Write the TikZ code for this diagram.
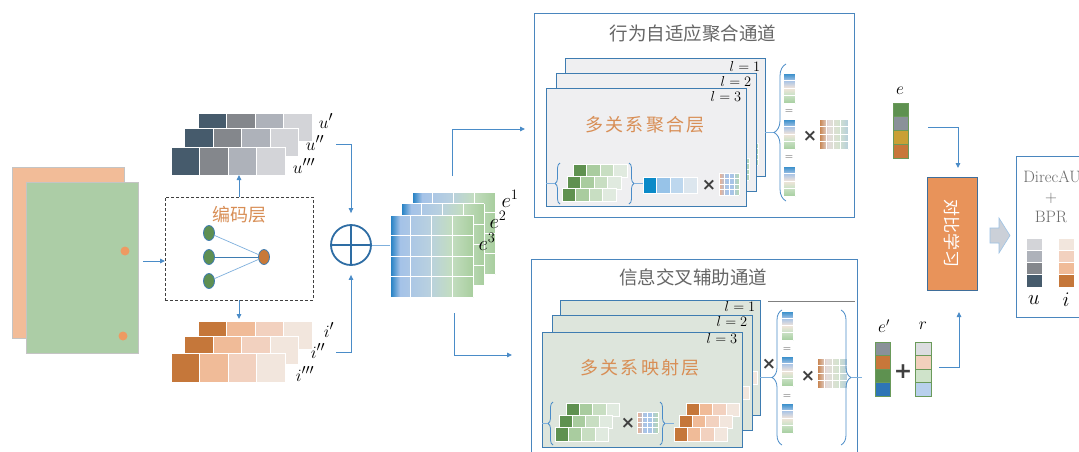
\documentclass[tikz,border=0pt]{standalone}
\usepackage{fontspec}
\newfontfamily\cjk{Noto Sans CJK SC}
\newfontfamily\cjksp[LetterSpace=12]{Noto Sans CJK SC}
\newfontfamily\dejavu{DejaVu Sans}
\usetikzlibrary{arrows.meta,decorations.pathreplacing,shapes.geometric}
\newcommand\setfs[1]{\fontsize{#1}{#1}\selectfont}
\definecolor{salmon}{HTML}{F2BC98}
\definecolor{sage}{HTML}{ACCDA6}
\definecolor{dotc}{HTML}{EE9A62}
\definecolor{rectgray}{HTML}{C4C4C4}
\definecolor{ablue}{HTML}{4A8CC8}
\definecolor{lblue}{HTML}{7FB0DD}
\definecolor{opblue}{HTML}{2E6DA4}
\definecolor{u1}{HTML}{465B6C}
\definecolor{u2}{HTML}{84878C}
\definecolor{u3}{HTML}{AEB2BA}
\definecolor{u4}{HTML}{D3D4D8}
\definecolor{i1}{HTML}{C5773A}
\definecolor{i2}{HTML}{F0BB98}
\definecolor{i3}{HTML}{F2D1BF}
\definecolor{i4}{HTML}{F2E6DD}
\definecolor{g1}{HTML}{5F9150}
\definecolor{g2}{HTML}{A9CC9F}
\definecolor{g3}{HTML}{C8DEC2}
\definecolor{g4}{HTML}{E0EADF}
\definecolor{b1}{HTML}{0A8AC8}
\definecolor{b2}{HTML}{97C3E8}
\definecolor{b3}{HTML}{BDD7EE}
\definecolor{b4}{HTML}{DCE6EE}
\definecolor{pborder}{HTML}{3E7CB1}
\definecolor{obox}{HTML}{4A86BE}
\definecolor{ptop}{HTML}{EFEFF1}
\definecolor{pbot}{HTML}{DDE5DC}
\definecolor{orangetxt}{HTML}{D88E55}
\definecolor{titlegray}{HTML}{666666}
\definecolor{darkx}{HTML}{404040}
\definecolor{ev1}{HTML}{5E9150}
\definecolor{ev2}{HTML}{8A9199}
\definecolor{ev3}{HTML}{C9A035}
\definecolor{ev4}{HTML}{C8773A}
\definecolor{evb}{HTML}{2E75B6}
\definecolor{rc1}{HTML}{DCDDE0}
\definecolor{rc2}{HTML}{F2D0BC}
\definecolor{rc3}{HTML}{CFE3CA}
\definecolor{rc4}{HTML}{B8D0EC}
\definecolor{vborder}{HTML}{6A9A5A}
\definecolor{ctorange}{HTML}{E8935A}
\definecolor{ctborder}{HTML}{3F6E9A}
\definecolor{blockgray}{HTML}{CBD0D8}
\definecolor{blockedge}{HTML}{9DC3E6}
\definecolor{dashgray}{HTML}{404040}
\definecolor{netgreen}{HTML}{5E8F52}
\definecolor{netorange}{HTML}{C87938}
\definecolor{restext}{HTML}{6A6A6A}
\definecolor{eA}{HTML}{1A7CC1}
\definecolor{eB}{HTML}{A4C2E8}
\definecolor{eC}{HTML}{B8D0E0}
\definecolor{eD}{HTML}{C3DDC0}
\definecolor{eE}{HTML}{A8CE9E}
\pgfdeclarehorizontalshading{egrad}{100bp}{color(0bp)=(eA); color(25bp)=(eA); color(31bp)=(eB); color(48bp)=(eC); color(62bp)=(eD); color(75bp)=(eE); color(100bp)=(eE)}
\definecolor{vA}{HTML}{A6CFA0}
\definecolor{vB}{HTML}{CFE3CA}
\definecolor{vC}{HTML}{F2E4DA}
\definecolor{vD}{HTML}{A9C4E6}
\definecolor{vE}{HTML}{2D8AC8}
\pgfdeclareverticalshading{vgrad}{100bp}{color(0bp)=(vA); color(25bp)=(vA); color(40bp)=(vB); color(50bp)=(vC); color(62bp)=(vD); color(75bp)=(vE); color(100bp)=(vE)}
\definecolor{mA}{HTML}{C67D45}
\definecolor{mB}{HTML}{E4DADA}
\definecolor{mC}{HTML}{D6E3CF}
\definecolor{mD}{HTML}{B7CFDB}
\pgfdeclarehorizontalshading{mgrad}{100bp}{color(0bp)=(mA); color(25bp)=(mA); color(40bp)=(mB); color(58bp)=(mC); color(75bp)=(mD); color(100bp)=(mD)}
\definecolor{sA}{HTML}{EDB08E}
\definecolor{sB}{HTML}{A8C4E8}
\definecolor{sC}{HTML}{B9D9B0}
\pgfdeclarehorizontalshading{sgrad}{100bp}{color(0bp)=(sA); color(25bp)=(sA); color(42bp)=(sB); color(58bp)=(sB); color(75bp)=(sC); color(100bp)=(sC)}

\newcommand\cellrow[5]{%
  \foreach \cc [count=\k from 0] in {#5}{%
    \fill[\cc,draw=white,line width=0.7pt] ({#1+\k*#3},{#2}) rectangle ++(#3,#4);}}
\newcommand\colvec[6]{%
  \foreach \cc [count=\k from 0] in {#5}{%
    \fill[\cc,draw=#6,line width=0.6pt] ({#1},{#2+\k*#4}) rectangle ++(#3,#4);}}
\newcommand\shgrid[7]{%
  \shade[shading=#1] (#2,#3) rectangle ++(#4,#5);
  \foreach \k in {0,...,#6}{\draw[white,line width=0.6pt] ({#2+\k*#4/#6},{#3}) -- ++(0,#5);}
  \foreach \k in {0,...,#7}{\draw[white,line width=0.6pt] ({#2},{#3+\k*#5/#7}) -- ++(#4,0);}}

% behaviour-aggregation panel (graphics only)
\newcommand\aggpanel[3]{%
\begin{scope}[shift={(#1,#2)}]
 \node[box, draw=pborder, fill=ptop, line width=1pt, minimum width=200pt, minimum height=118pt] (ap#3) at (0,0) {};
 \node[lab] (apl#3) at (180,8) {$l=#3$};
 \draw[brc=5pt] (14,116) -- (14,75);
 \draw[link] (0,95.5) -- (9,95.5);
 \cellrow{27}{76}{13.5}{13.5}{g1,g2,g3,g4}
 \cellrow{21}{88}{13.5}{13.5}{g1,g2,g3,g4}
 \cellrow{16}{100}{13.5}{13.5}{g1,g2,g3,g4}
 \draw[brc=5pt] (83,75) -- (83,116);
 \draw[link] (88,95.5) -- (97,95.5);
 \cellrow{97}{89}{13.5}{16}{b1,b2,b3,b4}
 \shgrid{sgrad}{173}{85}{20}{22}{4}{4}
\end{scope}}

% mapping panel (graphics only)
\newcommand\mappanel[3]{%
\begin{scope}[shift={(#1,#2)}]
 \node[box, draw=pborder, fill=pbot, line width=1pt, minimum width=200pt, minimum height=115pt] (mp#3) at (0,0) {};
 \node[lab] (mpl#3) at (180,6) {$l=#3$};
 \draw[brc=5pt] (11,113) -- (11,70);
 \draw[link] (0,91.5) -- (6,91.5);
 \cellrow{24}{71}{13.3}{13.5}{g1,g2,g3,g4}
 \cellrow{17}{83}{13.3}{13.5}{g1,g2,g3,g4}
 \cellrow{13}{95}{13.3}{14}{g1,g2,g3,g4}
 \shgrid{sgrad}{95}{80}{21}{21}{4}{4}
 \draw[brc=5pt] (118,70) -- (118,113);
 \draw[link] (123,91.5) -- (132,91.5);
 \cellrow{144}{71}{13.3}{13.5}{i1,i2,i3,i4}
 \cellrow{137}{83}{13.3}{13.5}{i1,i2,i3,i4}
 \cellrow{132}{95}{13.3}{14}{i1,i2,i3,i4}
\end{scope}}

\begin{document}
\begin{tikzpicture}[x=1pt,y=-1pt,
  box/.style={inner sep=0pt, outer sep=0pt, anchor=north west},
  lab/.style={inner sep=0pt, font=\setfs{15pt}},
  biglab/.style={inner sep=0pt, font=\setfs{20pt}},
  stklab/.style={inner sep=0pt, font=\setfs{19pt}},
  midlab/.style={inner sep=0pt, font=\setfs{18pt}},
  ptitle/.style={inner sep=0pt, font=\cjksp\setfs{18pt}, text=orangetxt},
  ttitle/.style={inner sep=0pt, font=\cjk\setfs{18.5pt}, text=titlegray},
  timesn/.style={inner sep=0pt, font=\dejavu\bfseries\setfs{17pt}, text=darkx},
  eqn/.style={inner sep=0pt, font=\setfs{11pt}, text=darkx},
  arr/.style={draw=ablue, line width=0.9pt, -{Triangle[length=5pt,width=4.5pt]}},
  link/.style={draw=lblue, line width=0.9pt},
  brc/.style={draw=ablue, line width=0.8pt, decorate, decoration={brace, amplitude=#1}},
  netnode/.style={ellipse, minimum width=11pt, minimum height=15pt, inner sep=0pt, draw=pborder, line width=0.8pt},
  restxt/.style={inner sep=0pt, font=\setfs{16.5pt}, text=restext}]
\useasboundingbox (0,0) rectangle (1079,451);
\clip (0,0) rectangle (1079,451);
\fill[white] (0,0) rectangle (1079,451);

% input documents
\node[box, draw=rectgray, fill=salmon, line width=0.6pt, minimum width=112pt, minimum height=171pt] (doc1) at (12,167) {};
\node[box, draw=rectgray, fill=sage, line width=0.6pt, minimum width=112pt, minimum height=171pt] (doc2) at (26,182) {};
\node[circle, fill=dotc, minimum size=9pt, inner sep=0pt] (dot1) at (125,251) {};
\node[circle, fill=dotc, minimum size=9pt, inner sep=0pt] (dot2) at (123,336) {};

% encoder
\node[box, draw=dashgray, dash pattern=on 3pt off 2pt, line width=0.9pt, minimum width=148pt, minimum height=103pt] (enc) at (165,197) {};
\node[inner sep=0pt, font=\cjk\setfs{18pt}, text=orangetxt] (enctitle) at (239,215) {编码层};
\node[netnode, fill=netgreen] (n1) at (209,233) {};
\node[netnode, fill=netgreen] (n2) at (209,257) {};
\node[netnode, fill=netgreen] (n3) at (209,281) {};
\node[netnode, fill=netorange] (no) at (264,257) {};
\draw[lblue, line width=0.7pt] (n1) -- (no) (n3) -- (no);
\draw[pborder, line width=1pt] (n2) -- (no);
\coordinate (leftout) at (143,261);
\draw[arr] (leftout) -- (leftout -| enc.west);

% u stack
\cellrow{198}{113}{28.5}{28}{u1,u2,u3,u4}
\cellrow{184.5}{128.5}{28.5}{28}{u1,u2,u3,u4}
\cellrow{171}{147}{28.5}{28}{u1,u2,u3,u4}
\node[box, minimum width=114pt, minimum height=28pt] (ufront) at (171,147) {};
\node[stklab] (lu1) at (326,121) {$u'$};
\node[stklab] (lu2) at (315,143) {$u''$};
\node[stklab] (lu3) at (304,166) {$u'''$};
% i stack
\cellrow{198}{321}{28.5}{28}{i1,i2,i3,i4}
\cellrow{184.5}{336.5}{28.5}{28}{i1,i2,i3,i4}
\cellrow{171}{353}{28.5}{29}{i1,i2,i3,i4}
\node[box, minimum width=114pt, minimum height=28pt] (iback) at (198,321) {};
\node[stklab] (li1) at (329,330) {$i'$};
\node[stklab] (li2) at (318,351) {$i''$};
\node[stklab] (li3) at (305,374) {$i'''$};
\draw[arr] (enc.north) -- (enc.north |- ufront.south);
\draw[arr, shorten >=2pt] (enc.south) -- (enc.south |- iback.north);

% oplus
\node[circle, draw=opblue, line width=1.8pt, minimum size=40pt, inner sep=0pt] (op) at (351,245) {};
\draw[opblue, line width=1.8pt] (op.north) -- (op.south) (op.west) -- (op.east);
\coordinate (uout) at (336,144);
\coordinate (iout) at (336,352);
\draw[arr, shorten >=11pt] (uout) -| (op.north);
\draw[arr, shorten >=9pt] (iout) -| (op.south);

% e stack
\shgrid{egrad}{412}{192}{83}{82}{4}{4}
\shgrid{egrad}{401}{203.5}{83}{82}{4}{4}
\shgrid{egrad}{390}{215}{83}{82}{4}{4}
\node[box, minimum width=83pt, minimum height=82pt] (egrid) at (390,215) {};
\node[biglab] (le1) at (510,199) {$e^1$};
\node[biglab] (le2) at (498,220) {$e^2$};
\node[biglab] (le3) at (487,242) {$e^3$};
\draw[link] (op.east) -- (op.east -| egrid.west);
\coordinate (eup) at (452,176);
\coordinate (topin) at (525,129);
\coordinate (edn) at (454,313);
\coordinate (botin) at (512,355);
\draw[arr] (eup) |- (topin);
\draw[arr] (edn) |- (botin);

% top channel
\node[box, draw=obox, line width=1pt, minimum width=320pt, minimum height=204pt] (topbox) at (534,13) {};
\node[ttitle] (toptitle) at (693,33) {行为自适应聚合通道};
\aggpanel{565}{58}{1}
\aggpanel{556}{73}{2}
\aggpanel{546}{88}{3}
\node[ptitle] (aggtitle) at (645,125) {多关系聚合层};
\node[timesn] (aggx) at (709,185) {×};
\coordinate (tb) at (765,132);
\coordinate (tbtip) at (774,132);
\draw[link] (tb) -- (tbtip);
\draw[brc=12pt] (786,201) -- (786,64);
\shgrid{vgrad}{783}{73}{12}{30}{1}{4}
\shgrid{vgrad}{783}{119}{12}{30}{1}{4}
\shgrid{vgrad}{783}{166}{12}{30}{1}{4}
\node[eqn] (teq1) at (789,112) {=};
\node[eqn] (teq2) at (789,158) {=};
\node[timesn] (tx) at (810,136) {×};
\shgrid{mgrad}{819}{119}{29}{30}{4}{4}

% bottom channel
\node[box, draw=obox, line width=1pt, minimum width=326pt, minimum height=210pt] (botbox) at (531,259) {};
\node[ttitle] (bottitle) at (693,277) {信息交叉辅助通道};
\coordinate (gl1) at (768,301);
\coordinate (gl2) at (855,301);
\draw[gray, line width=0.8pt] (gl1) -- (gl2);
\mappanel{560}{300}{1}
\mappanel{552}{315}{2}
\mappanel{542}{332}{3}
\node[ptitle] (maptitle) at (640,368) {多关系映射层};
\node[timesn] (mapx) at (628,423) {×};
\node[timesn] (bx1) at (769,364) {×};
\coordinate (bb) at (760,377);
\coordinate (bbtip) at (772,377);
\draw[link] (bb) -- (bbtip);
\draw[brc=10pt] (782,445) -- (782,310);
\shgrid{vgrad}{781}{311}{12}{29}{1}{4}
\shgrid{vgrad}{781}{356}{12}{30}{1}{4}
\shgrid{vgrad}{781}{403}{12}{30}{1}{4}
\node[eqn] (beq1) at (787,350) {=};
\node[eqn] (beq2) at (787,397) {=};
\node[timesn] (bx2) at (808,376) {×};
\shgrid{mgrad}{817}{358}{30}{30}{4}{4}
\draw[brc=10pt] (841,310) -- (841,445);
\coordinate (bbout) at (851,377);
\coordinate (bbend) at (862,377);
\draw[link] (bbout) -- (bbend);

% right section
\node[midlab] (elab) at (900,91) {$e$};
\colvec{893}{103}{15}{13.75}{ev1,ev2,ev3,ev4}{vborder}
\node[box, minimum width=15pt, minimum height=55pt] (evec) at (893,103) {};
\coordinate (eout) at (928,127);
\coordinate (ctin) at (958,168);
\draw[arr] (eout) -| (ctin);
\node[box, fill=ctorange, draw=ctborder, line width=1pt, minimum width=50pt, minimum height=113pt] (ct) at (927,177) {};
\node[rotate=-90, inner sep=0pt, text=white, font=\cjk\setfs{17pt}] (cttext) at (ct.center) {对比学习};
\coordinate (rout) at (939,367);
\coordinate (ctin2) at (959,312);
\draw[arr] (rout) -| (ctin2);
\draw[fill=blockgray, draw=blockedge, line width=0.6pt] (990,228) -- (999,228) -- (999,218) -- (1010,235.5) -- (999,253) -- (999,243) -- (990,243) -- cycle;
\node[box, draw=obox, line width=1pt, minimum width=80pt, minimum height=161pt] (res) at (1016,156) {};
\node[restxt] (res1) at (1052,177) {DirecAU};
\node[restxt] (res2) at (1051,198) {+};
\node[restxt] (res3) at (1051,217) {BPR};
\colvec{1026}{238}{16}{12.25}{u4,u3,u2,u1}{white}
\colvec{1058}{238}{16}{12.25}{i4,i3,i2,i1}{white}
\node[biglab] (resu) at (1034,300) {$u$};
\node[biglab] (resi) at (1066,300) {$i$};
\node[midlab] (eplab) at (884,326) {$e'$};
\colvec{875}{342}{15}{13.5}{ev2,ev4,ev1,evb}{vborder}
\node[inner sep=0pt, font=\dejavu\bfseries\setfs{22pt}, text=darkx] (plus) at (903,372) {+};
\node[midlab] (rlab) at (923,326) {$r$};
\colvec{915}{342}{16}{13.5}{rc1,rc2,rc3,rc4}{vborder}
\end{tikzpicture}
\end{document}
